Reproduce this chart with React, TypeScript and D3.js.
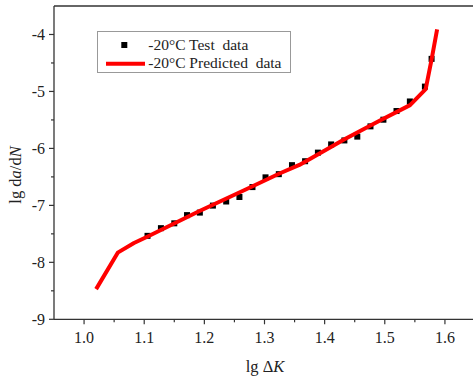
import React from "react";
import * as d3 from "d3";

const testX = [1.1055, 1.1278, 1.150, 1.1712, 1.1925, 1.2142, 1.2363, 1.2583, 1.280, 1.3017, 1.3238, 1.3457, 1.3675, 1.3888, 1.4108, 1.4328, 1.4543, 1.4762, 1.4977, 1.5195, 1.5417, 1.5667, 1.5778];
const testY = [-7.535, -7.40, -7.315, -7.171, -7.127, -7.004, -6.932, -6.853, -6.679, -6.508, -6.452, -6.294, -6.225, -6.074, -5.930, -5.860, -5.793, -5.613, -5.496, -5.344, -5.176, -4.915, -4.428];

const predX = [1.020, 1.056, 1.083, 1.105, 1.192, 1.267, 1.325, 1.358, 1.433, 1.492, 1.542, 1.568, 1.578, 1.587];
const predY = [-8.47, -7.83, -7.66, -7.55, -7.10, -6.73, -6.44, -6.29, -5.84, -5.51, -5.24, -4.96, -4.43, -3.91];

const xMajor = [1.0, 1.1, 1.2, 1.3, 1.4, 1.5, 1.6];
const xMinor = [1.05, 1.15, 1.25, 1.35, 1.45, 1.55, 1.65];
const yMajor = [-4, -5, -6, -7, -8, -9];
const yMinor = [-4.5, -5.5, -6.5, -7.5, -8.5];

const legendLabels = ["-20\u00B0C Test  data", "-20\u00B0C Predicted  data"];

const FONT = "'Liberation Serif', 'Times New Roman', serif";

export default function App() {
  const left = 54, right = 475, top = 6, bottom = 319.3;
  const x = d3.scaleLinear().domain([0.95, 1.65]).range([left, right]);
  const y = d3.scaleLinear().domain([-9, -3.5]).range([bottom, top]);
  const line = d3.line<number>().x((_, i) => x(predX[i])).y((_, i) => y(predY[i]));
  const axisColor = "#333";
  return (
    <svg width={473} height={377} style={{ position: "absolute", left: 0, top: 0, background: "#fff" }} fontFamily={FONT}>
      <rect x={0} y={0} width={473} height={377} fill="#fff" />
      {/* frame */}
      <line x1={left} x2={right} y1={top} y2={top} stroke={axisColor} strokeWidth={1.3} />
      <line x1={left} x2={right} y1={bottom} y2={bottom} stroke={axisColor} strokeWidth={1.3} />
      <line x1={left} x2={left} y1={top} y2={bottom} stroke={axisColor} strokeWidth={1.3} />
      {/* x ticks */}
      {xMajor.map((v) => (
        <g key={"xm" + v}>
          <line x1={x(v)} x2={x(v)} y1={bottom} y2={bottom + 5} stroke={axisColor} strokeWidth={1.2} />
          <text x={x(v)} y={342.8} textAnchor="middle" fontSize={16} fill="#222">{v.toFixed(1)}</text>
        </g>
      ))}
      {xMinor.map((v) => (
        <line key={"xn" + v} x1={x(v)} x2={x(v)} y1={bottom} y2={bottom + 3} stroke={axisColor} strokeWidth={1.2} />
      ))}
      {/* y ticks */}
      {yMajor.map((v) => (
        <g key={"ym" + v}>
          <line x1={left - 5} x2={left} y1={y(v)} y2={y(v)} stroke={axisColor} strokeWidth={1.2} />
          <text x={45} y={y(v)} dy="0.35em" textAnchor="end" fontSize={16} fill="#222">{String(v)}</text>
        </g>
      ))}
      {yMinor.map((v) => (
        <line key={"yn" + v} x1={left - 3} x2={left} y1={y(v)} y2={y(v)} stroke={axisColor} strokeWidth={1.2} />
      ))}
      {/* axis titles */}
      <text x={265} y={372} textAnchor="middle" fontSize={16.5} fill="#222">
        lg Δ<tspan fontStyle="italic">K</tspan>
      </text>
      <text transform="translate(21,175) rotate(-90)" textAnchor="middle" fontSize={16.5} fill="#222">
        lg d<tspan fontStyle="italic">a</tspan>/d<tspan fontStyle="italic">N</tspan>
      </text>
      {/* test data */}
      {testX.map((v, i) => (
        <rect key={"t" + i} x={x(v) - 3} y={y(testY[i]) - 3} width={6} height={6} fill="#000" />
      ))}
      {/* predicted line */}
      <path d={line(predX) || ""} fill="none" stroke="#f00" strokeWidth={4} strokeLinejoin="round" />
      {/* legend */}
      <rect x={97.5} y={31.5} width={193} height={41} fill="#fff" stroke="#999" strokeWidth={1} />
      <rect x={121.3} y={42} width={6} height={6} fill="#000" />
      <line x1={106} x2={145} y1={63.7} y2={63.7} stroke="#f00" strokeWidth={4} />
      <text x={148.3} y={49.5} fontSize={15.5} fill="#222" style={{ whiteSpace: "pre" }}>{legendLabels[0]}</text>
      <text x={148.3} y={67.5} fontSize={15.5} fill="#222" style={{ whiteSpace: "pre" }}>{legendLabels[1]}</text>
    </svg>
  );
}
